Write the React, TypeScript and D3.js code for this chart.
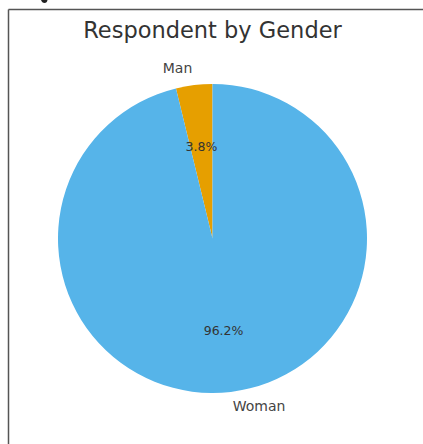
import React from "react";
import * as d3 from "d3";

const categories = ["Man", "Woman"];
const values = [3.8, 96.2];
const colors = ["#E69F00", "#56B4E9"];
const title = "Respondent by Gender";

const W = 423;
const H = 444;
const cx = 212.5;
const cy = 238.5;
const R = 154.5;

export default function App() {
  const pie = d3
    .pie<number>()
    .sort(null)
    .value((d) => d)
    .startAngle(0)
    .endAngle(-2 * Math.PI);
  const arcs = pie(values);
  const arcGen = d3.arc<d3.PieArcDatum<number>>().innerRadius(0).outerRadius(R);
  const total = d3.sum(values);

  return (
    <svg
      width={W}
      height={H}
      style={{ position: "absolute", left: 0, top: 0, background: "#fff" }}
      fontFamily="DejaVu Sans, sans-serif"
    >
      <path d="M41,0 Q42,3 44.5,3 Q47,3 47.5,0 Z" fill="#222" />
      <line x1={8.5} y1={9.5} x2={W} y2={9.5} stroke="#555" strokeWidth={1.5} />
      <line x1={8.5} y1={9.5} x2={8.5} y2={H} stroke="#555" strokeWidth={1.5} />
      <text x={212.5} y={38} fontSize={22.5} fill="#333" textAnchor="middle">
        {title}
      </text>
      <g transform={`translate(${cx},${cy})`}>
        {arcs.map((a, i) => (
          <path key={categories[i]} d={arcGen(a) || ""} fill={colors[i]} />
        ))}
        {arcs.map((a, i) => {
          const mid = (a.startAngle + a.endAngle) / 2;
          const sx = Math.sin(mid);
          const sy = -Math.cos(mid);
          const lx = 1.1 * R * sx;
          const ly = 1.1 * R * sy;
          const px = 0.6 * R * sx;
          const py = 0.6 * R * sy;
          const anchor = lx < -1e-6 ? "end" : lx > 1e-6 ? "start" : "middle";
          return (
            <g key={"l" + categories[i]}>
              <text x={lx} y={ly - 1.5} fontSize={14} fill="#444" textAnchor={anchor} dominantBaseline="central">
                {categories[i]}
              </text>
              <text x={px} y={py} fontSize={12.5} fill="#333" textAnchor="middle" dominantBaseline="central">
                {((values[i] / total) * 100).toFixed(1) + "%"}
              </text>
            </g>
          );
        })}
      </g>
    </svg>
  );
}
